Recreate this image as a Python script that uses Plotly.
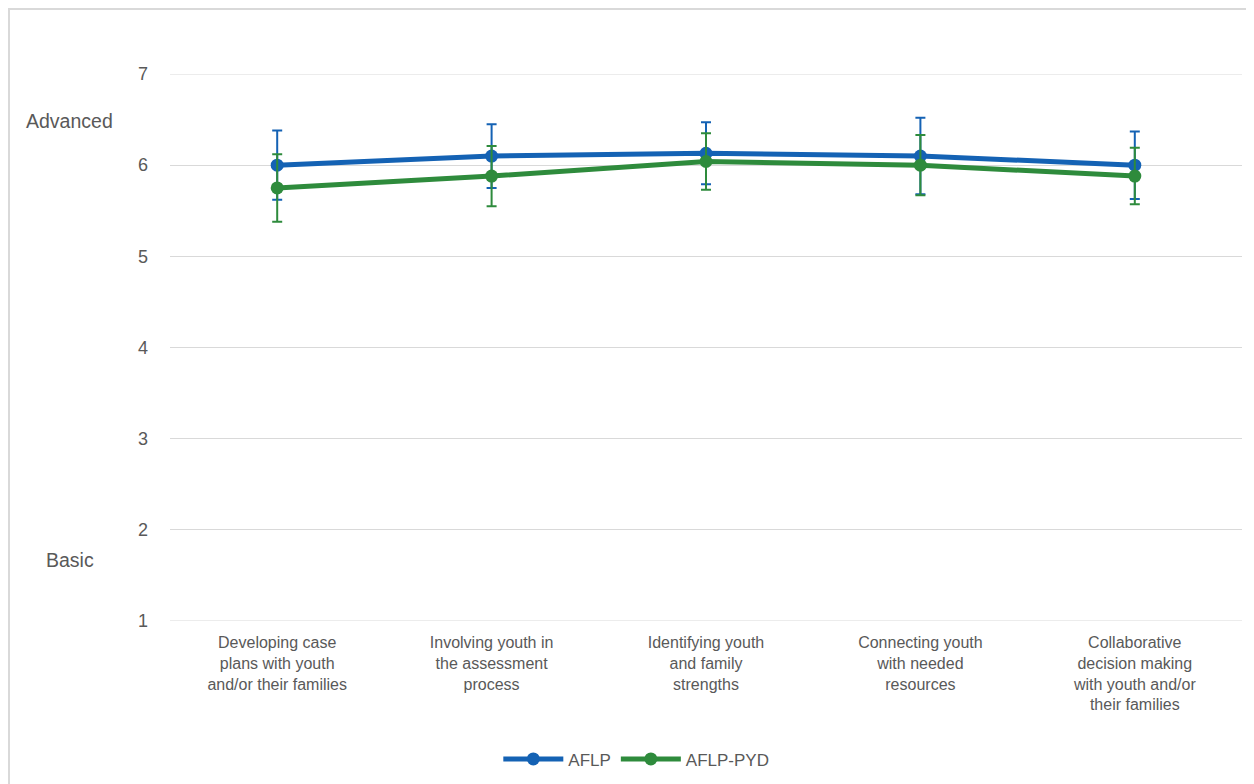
import plotly.graph_objects as go

categories = [
    "Developing case<br>plans with youth<br>and/or their families",
    "Involving youth in<br>the assessment<br>process",
    "Identifying youth<br>and family<br>strengths",
    "Connecting youth<br>with needed<br>resources",
    "Collaborative<br>decision making<br>with youth and/or<br>their families",
]
aflp = [6.00, 6.10, 6.13, 6.10, 6.00]
aflp_err = [0.38, 0.35, 0.34, 0.42, 0.37]
pyd = [5.75, 5.88, 6.04, 6.00, 5.88]
pyd_err = [0.37, 0.33, 0.31, 0.33, 0.31]
tick_vals = [1, 2, 3, 4, 5, 6, 7]

blue = "#1462B4"
green = "#2E8B3C"
grid = "#D9D9D9"

fig = go.Figure()
fig.add_trace(go.Scatter(
    x=categories, y=aflp, name="AFLP", mode="lines+markers",
    line=dict(color=blue, width=5), marker=dict(size=13, color=blue),
    error_y=dict(type="data", array=aflp_err, color=blue, thickness=2, width=5),
))
fig.add_trace(go.Scatter(
    x=categories, y=pyd, name="AFLP-PYD", mode="lines+markers",
    line=dict(color=green, width=5), marker=dict(size=13, color=green),
    error_y=dict(type="data", array=pyd_err, color=green, thickness=2, width=5),
))

W, H = 1246, 776
L, R, T, B = 162, 12, 66, 163
pw, ph = W - L - R, H - T - B

edge_lines = [dict(type="line", xref="paper", yref="y", x0=0, x1=1, y0=v, y1=v,
                   line=dict(color=grid, width=1), layer="below")
              for v in (tick_vals[0], tick_vals[-1])]

fig.update_layout(
    width=W, height=H,
    margin=dict(l=L, r=R, t=T, b=B, autoexpand=False),
    paper_bgcolor="white", plot_bgcolor="white",
    font=dict(family="Liberation Sans, Arial, sans-serif", color="#595959"),
    showlegend=True,
    legend=dict(orientation="h", x=0.435, xanchor="center", y=-0.22, yanchor="top",
                font=dict(size=17, color="#595959"), itemwidth=60),
    xaxis=dict(range=[-0.5, 4.5], showgrid=False, showline=False, ticks="",
               tickfont=dict(size=16, color="#595959"), ticklabelstandoff=10,
               fixedrange=True),
    yaxis=dict(range=[1, 7], tickvals=tick_vals, showgrid=True, gridcolor=grid,
               gridwidth=1, zeroline=False, showline=False, ticks="",
               tickfont=dict(size=18, color="#595959"), ticklabelstandoff=21),
    annotations=[
        dict(text="Advanced", x=(61 - L) / pw, xref="paper", xanchor="center", y=6.48, yref="y",
             showarrow=False, font=dict(size=19.5, color="#595959")),
        dict(text="Basic", x=(62 - L) / pw, xref="paper", xanchor="center", y=1.67, yref="y",
             showarrow=False, font=dict(size=19.5, color="#595959")),
    ],
    shapes=[dict(type="rect", xref="paper", yref="paper",
                 x0=(1 - L) / pw, x1=(W - 1 - L) / pw,
                 y0=-(B + 20) / ph, y1=(ph + T - 1) / ph,
                 line=dict(color=grid, width=2), layer="below")] + edge_lines,
)

fig.write_html("out.html")
